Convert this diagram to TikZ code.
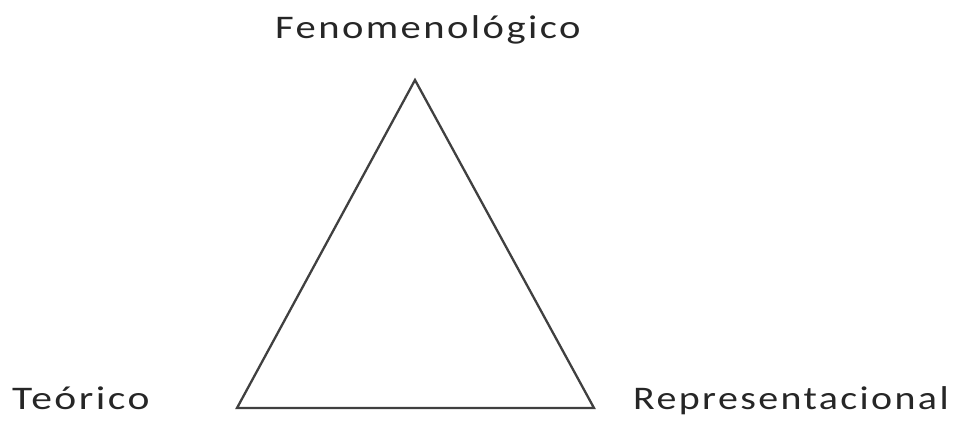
\documentclass[tikz,border=0pt]{standalone}
\usepackage{fontspec}
\setmainfont[LetterSpace=6]{Carlito}
\begin{document}
\begin{tikzpicture}[x=1pt,y=-1pt,
  lbl/.style={font=\fontsize{33}{36}\selectfont, text=black!85, inner sep=0pt, anchor=base west},
  tri/.style={draw=black!75, line width=2.3pt, line join=miter}]
\useasboundingbox (0,0) rectangle (955,423);
\coordinate (A) at (415,80);
\coordinate (B) at (237,408);
\coordinate (C) at (594,408);
\draw[tri] (A) -- (B) -- (C) -- cycle;
\node[lbl] (fen) at (275,38) {\scalebox{1.23}[1]{Fenomenológico}};
\node[lbl] (teo) at (12,409) {\scalebox{1.26}[1]{Teórico}};
\node[lbl] (rep) at (633,409) {\scalebox{1.21}[1]{Representacional}};
\end{tikzpicture}
\end{document}
